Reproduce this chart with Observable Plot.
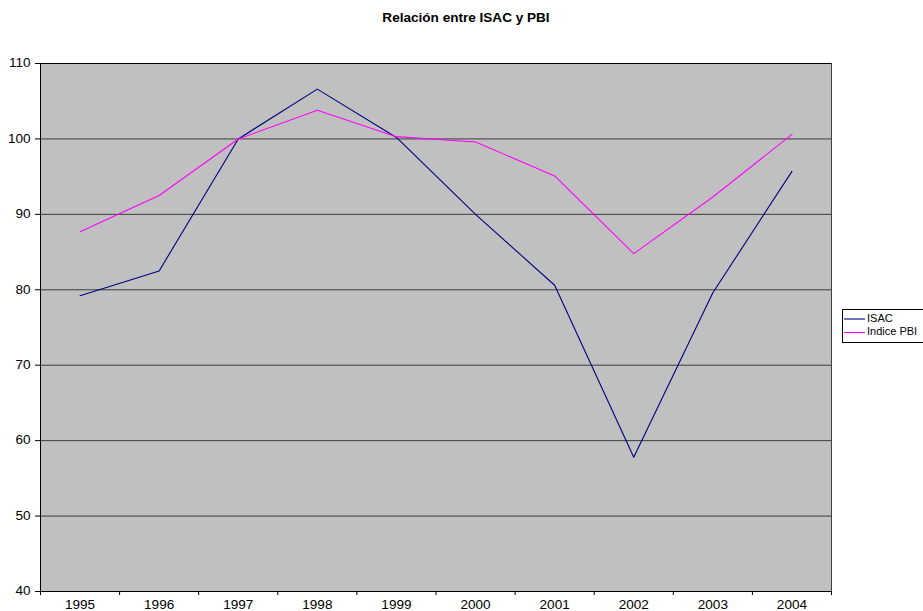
<!DOCTYPE html>
<html>
<head>
<meta charset="utf-8">
<script src="https://cdn.jsdelivr.net/npm/d3@7"></script>
<script src="https://cdn.jsdelivr.net/npm/@observablehq/plot@0.6"></script>
<style>
  html, body { margin: 0; padding: 0; background: #fff; }
</style>
</head>
<body>
<div id="chart"></div>
<script>
const title = "Relación entre ISAC y PBI";
const years = [1995, 1996, 1997, 1998, 1999, 2000, 2001, 2002, 2003, 2004];
const isac = [79.2, 82.5, 100.0, 106.6, 100.2, 90.0, 80.6, 57.8, 79.6, 95.7];
const pbi = [87.7, 92.5, 100.0, 103.8, 100.3, 99.6, 95.1, 84.8, 92.3, 100.6];
const seriesNames = ["ISAC", "Indice PBI"];
const seriesColors = ["#000080", "#FF00FF"];
const yTicks = [40, 50, 60, 70, 80, 90, 100, 110];
const gridValues = [50, 60, 70, 80, 90, 100];

const rows = [];
years.forEach((yr, i) => {
  rows.push({year: yr, value: isac[i], series: seriesNames[0]});
  rows.push({year: yr, value: pbi[i], series: seriesNames[1]});
});
const boundaries = [years[0] - 0.5, ...years.map(y => y + 0.5)];
const FONT = "'Liberation Sans', Arial, sans-serif";

const chart = Plot.plot({
  width: 923,
  height: 611,
  marginLeft: 40,
  marginRight: 92,
  marginTop: 63,
  marginBottom: 20,
  style: {fontFamily: FONT, fontSize: "12px", background: "#fff", color: "#000"},
  x: {type: "linear", domain: [years[0] - 0.5, years[years.length - 1] + 0.5]},
  y: {domain: [40, 110]},
  color: {domain: seriesNames, range: seriesColors},
  marks: [
    Plot.frame({fill: "#C0C0C0", stroke: null}),
    Plot.ruleY(gridValues, {stroke: "#3c3c3c", strokeWidth: 1}),
    Plot.line(rows, {x: "year", y: "value", z: "series", stroke: "series", strokeWidth: 1.1}),
    Plot.ruleX([years[0] - 0.5], {stroke: "#000", strokeWidth: 1}),
    Plot.ruleY([40, 110], {stroke: "#000", strokeWidth: 1}),
    Plot.ruleX([years[years.length - 1] + 0.5], {stroke: "#404040", strokeWidth: 1}),
    Plot.axisY({ticks: yTicks, tickSize: 5, tickPadding: 5, label: null, tickFormat: d => String(d)}),
    Plot.axisX({ticks: years, tickSize: 0, tickPadding: 9, label: null, tickFormat: d => String(d)}),
    Plot.axisX({ticks: boundaries, tickSize: 4, label: null, tickFormat: () => ""})
  ]
});

document.getElementById("chart").appendChild(chart);
const svg = d3.select(chart);

svg.append("text")
  .attr("x", 466).attr("y", 19)
  .attr("text-anchor", "middle").attr("dominant-baseline", "middle")
  .attr("font-weight", "bold").attr("font-size", "12px")
  .attr("font-family", FONT)
  .text(title);

// the reference text is drawn slightly wider than normal: stretch labels horizontally
svg.selectAll("text").each(function() {
  const t = this.textContent;
  if (!t) return;
  const len = this.getComputedTextLength();
  if (len > 0) {
    this.setAttribute("textLength", (len * 1.13).toFixed(2));
    this.setAttribute("lengthAdjust", "spacingAndGlyphs");
  }
});

const lg = svg.append("g").attr("font-family", FONT).attr("font-size", "11px");
lg.append("rect").attr("x", 842.5).attr("y", 309.5).attr("width", 100).attr("height", 33)
  .attr("fill", "#fff").attr("stroke", "#000");
seriesNames.forEach((name, i) => {
  const yy = 319 + i * 13.5;
  lg.append("line").attr("x1", 844).attr("x2", 865).attr("y1", yy).attr("y2", yy)
    .attr("stroke", seriesColors[i]).attr("stroke-width", 1.1);
  lg.append("text").attr("x", 867).attr("y", yy)
    .attr("text-anchor", "start").attr("dominant-baseline", "middle").text(name);
});
</script>
</body>
</html>
